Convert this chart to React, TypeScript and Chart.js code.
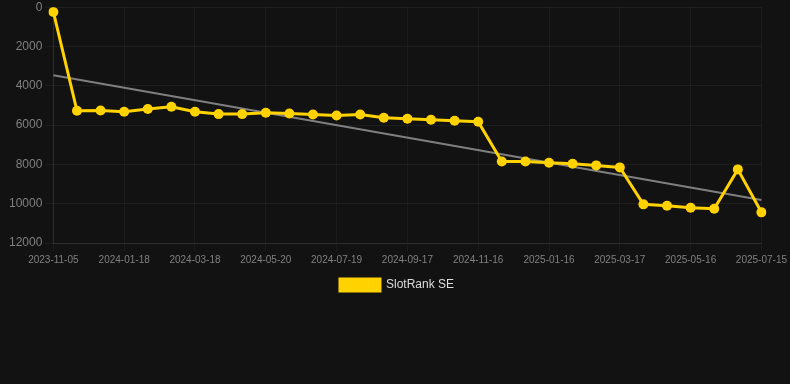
import React, { useEffect, useRef } from "react";
import { Chart, registerables } from "chart.js";

Chart.register(...registerables);

const dateLabels: string[] = [
  "2023-11-05", "2023-11-29", "2023-12-24", "2024-01-18", "2024-02-07", "2024-02-27",
  "2024-03-18", "2024-04-08", "2024-04-29", "2024-05-20", "2024-06-09", "2024-06-29",
  "2024-07-19", "2024-08-08", "2024-08-28", "2024-09-17", "2024-10-07", "2024-10-27",
  "2024-11-16", "2024-12-06", "2024-12-26", "2025-01-16", "2025-02-05", "2025-02-25",
  "2025-03-17", "2025-04-06", "2025-04-26", "2025-05-16", "2025-06-05", "2025-06-25",
  "2025-07-15",
];

const rankValues: number[] = [
  240, 5270, 5255, 5320, 5185, 5070, 5320, 5440, 5440, 5370, 5407, 5458, 5508, 5458,
  5627, 5678, 5729, 5780, 5830, 7855, 7850, 7915, 7966, 8050, 8152, 10034, 10102, 10203,
  10254, 8254, 10440,
];

const trendStart = 3460;
const trendEnd = 9810;
const trendValues: (number | null)[] = dateLabels.map((_, i) =>
  i === 0 ? trendStart : i === dateLabels.length - 1 ? trendEnd : null
);

const yTicks: number[] = [0, 2000, 4000, 6000, 8000, 10000, 12000];

export default function App() {
  const ref = useRef<HTMLCanvasElement | null>(null);

  useEffect(() => {
    document.body.style.margin = "0";
    document.body.style.background = "#121212";
    const canvas = ref.current;
    if (!canvas) return;
    const chart = new Chart(canvas, {
      type: "line",
      data: {
        labels: dateLabels,
        datasets: [
          {
            label: "SlotRank SE",
            data: rankValues,
            borderColor: "#FFD200",
            backgroundColor: "#FFD200",
            borderWidth: 3,
            pointRadius: 5,
            pointBorderWidth: 0,
            pointHoverRadius: 5,
            pointBackgroundColor: "#FFD200",
            pointBorderColor: "#FFD200",
            tension: 0,
            order: 1,
          },
          {
            label: "trend",
            data: trendValues,
            borderColor: "rgba(140,140,140,0.9)",
            borderWidth: 2,
            pointRadius: 0,
            spanGaps: true,
            order: 2,
          },
        ],
      },
      options: {
        animation: false,
        responsive: false,
        maintainAspectRatio: false,
        layout: { padding: { left: 6, right: 2, top: 0, bottom: 0 } },
        plugins: {
          legend: {
            position: "bottom",
            labels: {
              color: "#dddddd",
              font: { family: "Liberation Sans, Arial", size: 12 },
              boxWidth: 40,
              boxHeight: 12,
              filter: (item) => item.text !== "trend",
            },
          },
          tooltip: { enabled: false },
        },
        scales: {
          x: {
            type: "category",
            grid: { color: "rgba(255,255,255,0.045)", drawTicks: true },
            border: { color: "rgba(255,255,255,0.08)" },
            ticks: {
              autoSkip: false,
              maxRotation: 0,
              color: "#808080",
              font: { family: "Liberation Sans, Arial", size: 10 },
              callback: (_v, i) => (i % 3 === 0 ? dateLabels[i] : null),
            },
          },
          y: {
            reverse: true,
            min: 0,
            max: 12000,
            afterBuildTicks: (axis) => {
              axis.ticks = yTicks.map((v) => ({ value: v }));
            },
            grid: { color: "rgba(255,255,255,0.05)" },
            border: { color: "rgba(255,255,255,0.08)" },
            ticks: {
              color: "#808080",
              font: { family: "Liberation Sans, Arial", size: 12 },
              callback: (v) => String(v),
            },
          },
        },
      },
    });
    return () => chart.destroy();
  }, []);

  return (
    <div style={{ width: 790, height: 384, background: "#121212", overflow: "hidden" }}>
      <canvas ref={ref} width={790} height={304} style={{ display: "block", marginTop: -3 }} />
    </div>
  );
}
